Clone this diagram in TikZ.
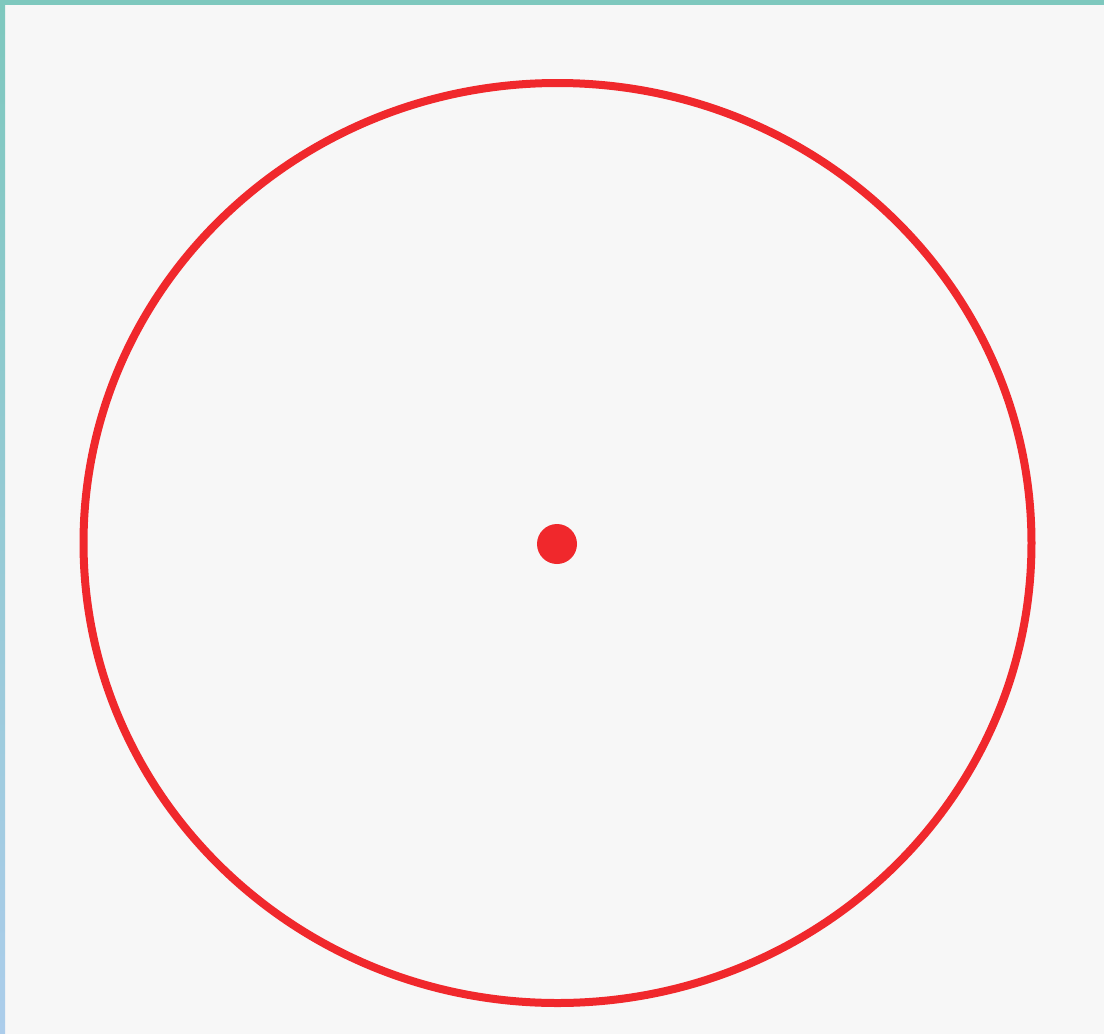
\documentclass[tikz,border=0pt]{standalone}
\definecolor{bg}{RGB}{247,247,247}
\definecolor{ring}{RGB}{240,40,44}
\definecolor{tealtop}{RGB}{126,200,190}
\definecolor{bluebot}{RGB}{172,205,235}
\tikzset{ringstyle/.style={draw=ring,line width=8pt}}
\begin{document}
\begin{tikzpicture}[x=1pt,y=-1pt]
\useasboundingbox (0,0) rectangle (1104,1034);
\fill[bg] (0,0) rectangle (1104,1034);
\shade[top color=tealtop,bottom color=bluebot] (0,0) rectangle (5,1034);
\fill[tealtop] (0,0) rectangle (1104,5);
\draw[ringstyle] (557.5,543) ellipse [x radius=474, y radius=460];
\fill[ring] (557,544) circle [radius=20];
\end{tikzpicture}
\end{document}
